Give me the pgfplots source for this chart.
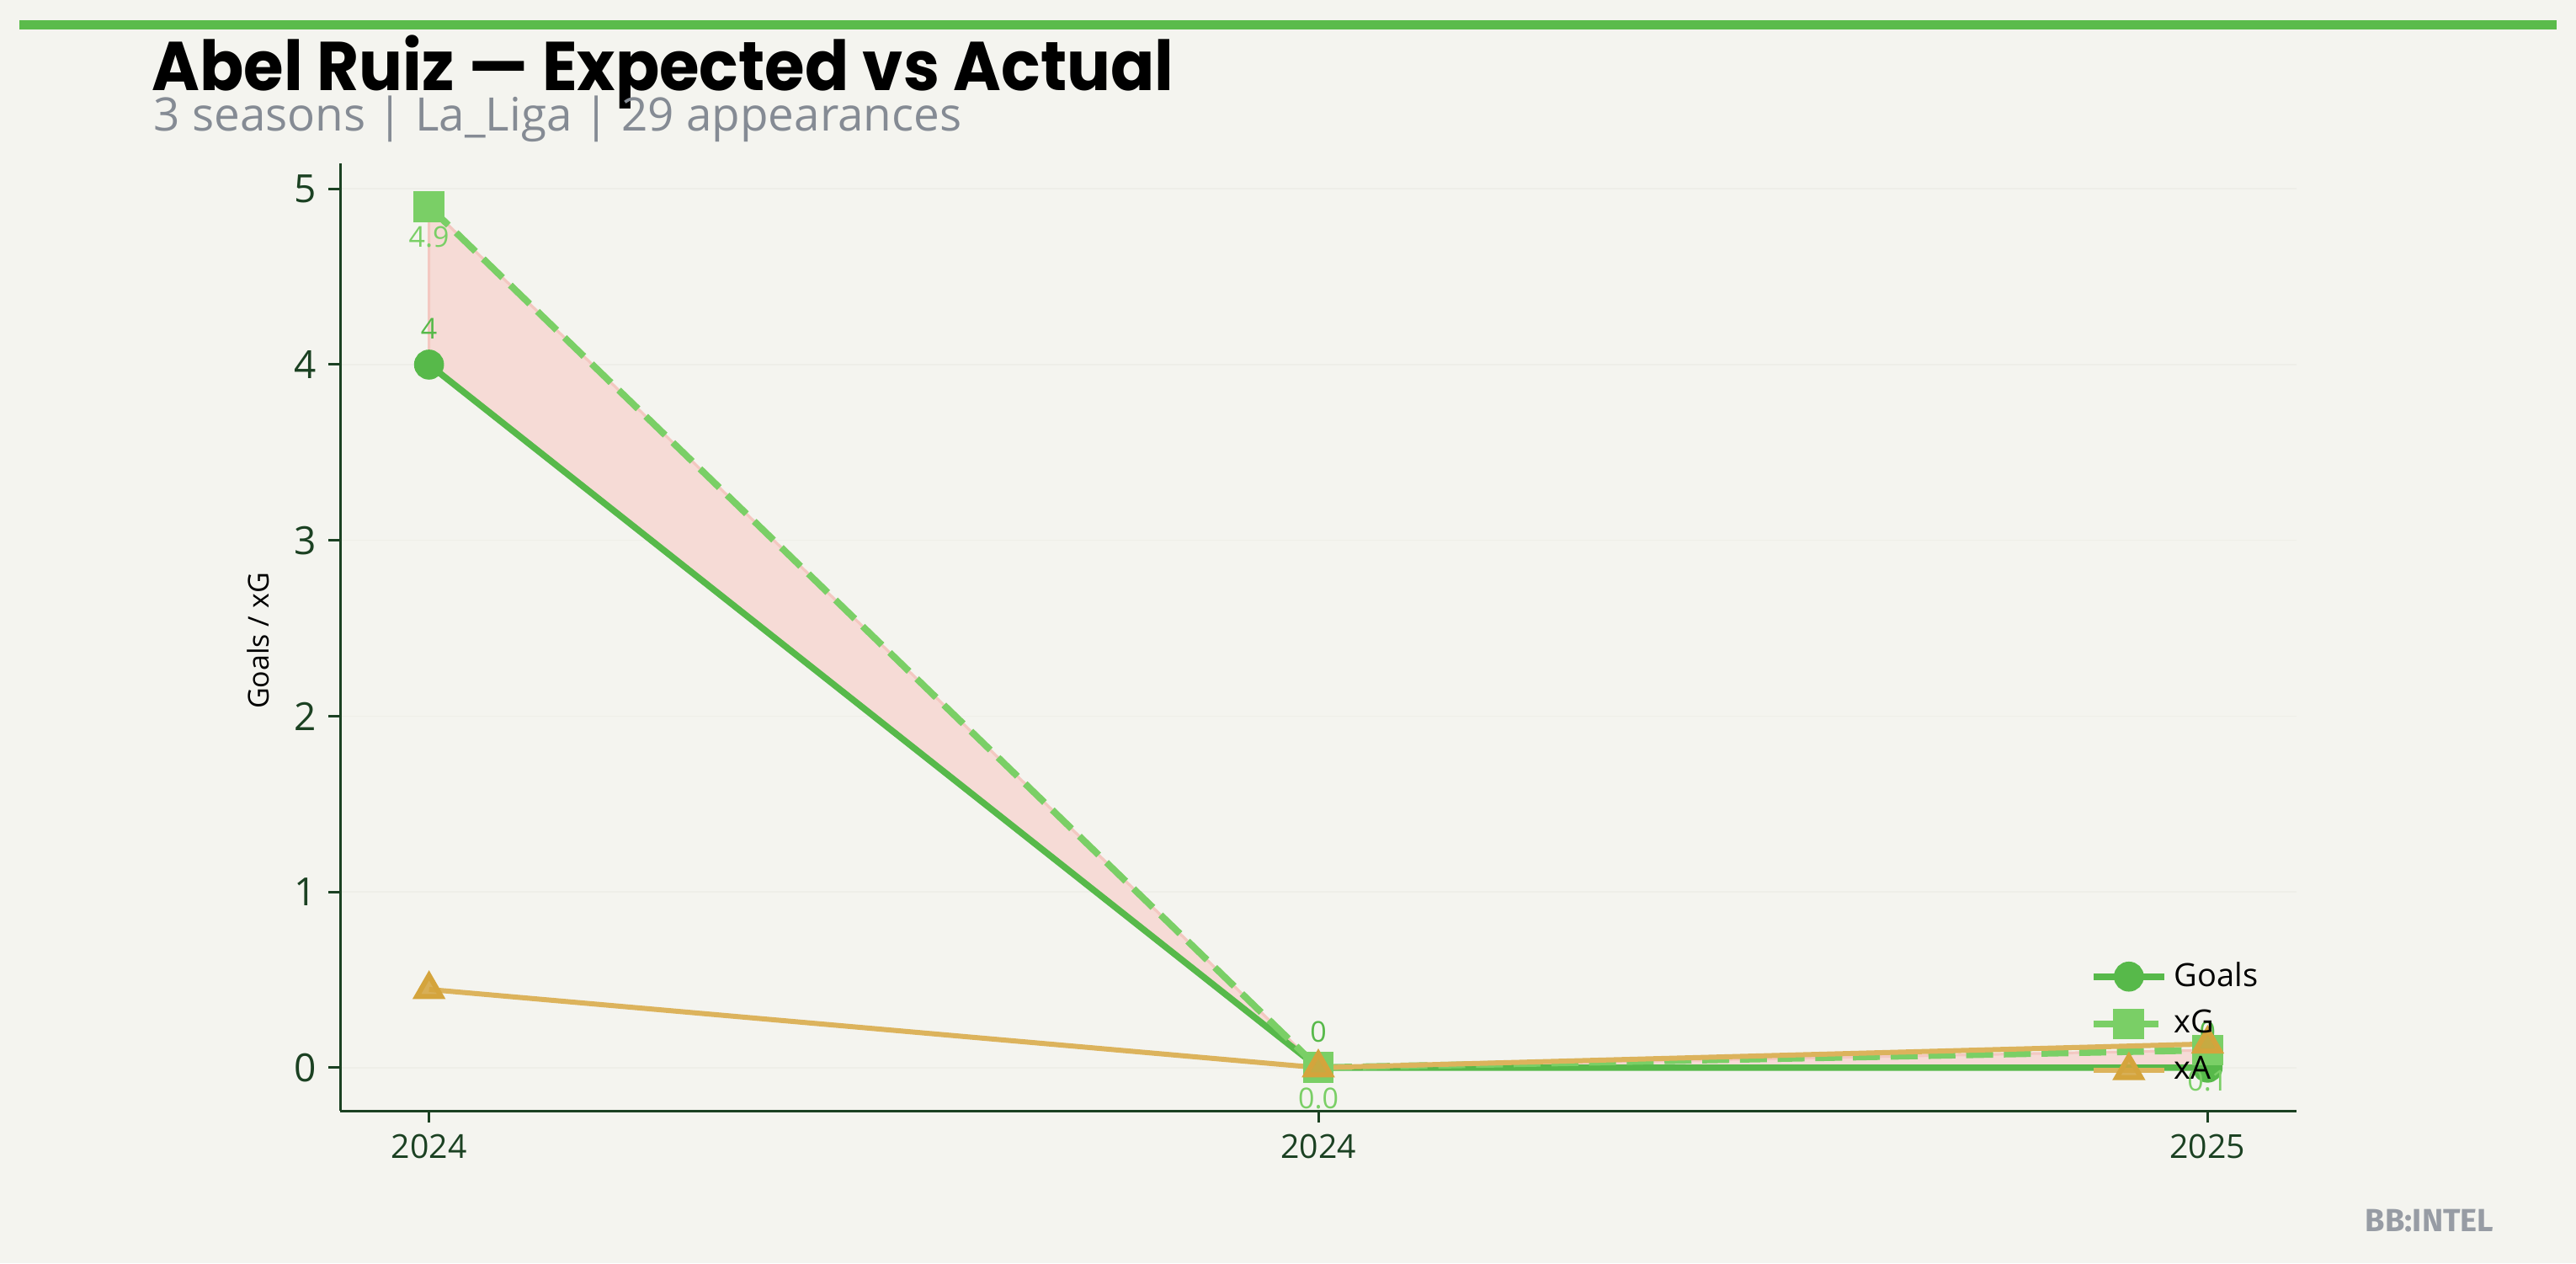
\documentclass[border=0pt]{standalone}
\usepackage{fontspec}
\setmainfont{Open Sans}
\newfontfamily\titlefont{Poppins}
\newfontfamily\markfont{Fira Sans}
\usepackage{pgfplots}
\pgfplotsset{compat=1.18}
\definecolor{bgc}{HTML}{F4F4EF}
\definecolor{barc}{HTML}{5BBB4B}
\definecolor{goalc}{HTML}{57B94A}
\definecolor{xgc}{HTML}{7ACF66}
\definecolor{xac}{HTML}{DCB35C}
\definecolor{xam}{HTML}{D4A43C}
\definecolor{fillc}{HTML}{F6DBD6}
\definecolor{filledge}{HTML}{F3C8C1}
\definecolor{axc}{HTML}{1B4122}
\definecolor{subc}{HTML}{858B94}
\definecolor{gridc}{HTML}{EEEEE8}
\begin{document}
\begin{tikzpicture}[x=1pt,y=1pt]
\fill[bgc] (0,0) rectangle (765,375);
\fill[barc] (5.75,366.25) rectangle (759.25,369);
\node[anchor=base west, inner sep=0pt, font=\titlefont\bfseries\fontsize{20.5}{24}\selectfont] at (45,348.2) {\scalebox{0.94}[1]{Abel Ruiz — Expected vs Actual}};
\node[anchor=base west, inner sep=0pt, text=subc, font=\fontsize{13.7}{16}\selectfont] at (45.5,336) {3 seasons | La\_Liga | 29 appearances};
\node[text=subc!85!white, font=\markfont\bfseries\fontsize{9.5}{11}\selectfont] at (721.5,12.5) {BB:INTEL};
\begin{axis}[
  at={(101pt,45.25pt)}, anchor=south west,
  scale only axis, width=581pt, height=281.25pt,
  xmin=-0.1, xmax=2.1, ymin=-0.245, ymax=5.145,
  xtick={0,1,2}, xticklabels={2024,2024,2025},
  ytick={0,1,2,3,4,5},
  axis x line*=bottom, axis y line*=left,
  axis line style={color=axc, line width=0.75pt},
  tick align=outside, major tick length=3.5pt,
  every tick/.style={color=axc, line width=0.75pt},
  ymajorgrids, grid style={color=gridc, line width=0.4pt},
  /pgf/number format/assume math mode=true,
  xticklabel style={font=\fontsize{9.8}{11}\selectfont, text=axc},
  yticklabel style={font=\fontsize{11.5}{13}\selectfont, text=axc},
  ylabel={Goals / xG},
  ylabel style={at={(axis description cs:-0.042,0.496)}, anchor=center, font=\fontsize{8.5}{10}\selectfont, text=black},
  legend style={at={(0.889,0.172)}, anchor=north west, draw=none, fill=none, font=\fontsize{9.5}{11}\selectfont, row sep=1.5pt},
  legend cell align=left,
  legend image code/.code={\draw[mark repeat=2,mark phase=2] plot coordinates {(0pt,0pt) (10.5pt,0pt) (21pt,0pt)};},
  clip=false,
]
\addplot[fill=fillc, draw=filledge, line width=0.8pt, forget plot]
  coordinates {(0,4) (1,0) (2,0) (2,0.1) (1,0.0) (0,4.9)} -- cycle;
\addplot[color=goalc, line width=1.9pt, mark=*, mark size=3.5pt, mark options={solid},
  nodes near coords, point meta=explicit symbolic,
  every node near coord/.append style={anchor=center, yshift=10.75pt, font=\fontsize{8.5}{10}\selectfont, text=goalc}]
  coordinates {(0,4)[4] (1,0)[0] (2,0)[0]};
\addlegendentry{Goals}
\addplot[color=xgc, line width=2pt, dash pattern=on 8pt off 3.2pt, mark=square*, mark size=3.6pt, mark options={solid},
  nodes near coords, point meta=explicit symbolic,
  every node near coord/.append style={anchor=center, yshift=-9.2pt, font=\fontsize{8.5}{10}\selectfont, text=xgc}]
  coordinates {(0,4.9)[4.9] (1,0.0)[0.0] (2,0.1)[0.1]};
\addlegendentry{xG}
\addplot[color=xac, line width=1.5pt, mark=triangle*, mark size=4.2pt, mark options={solid, fill=xam, draw=xam, fill opacity=0.85}]
  coordinates {(0,0.445) (1,0) (2,0.135)};
\addlegendentry{xA}
\end{axis}
\end{tikzpicture}
\end{document}
